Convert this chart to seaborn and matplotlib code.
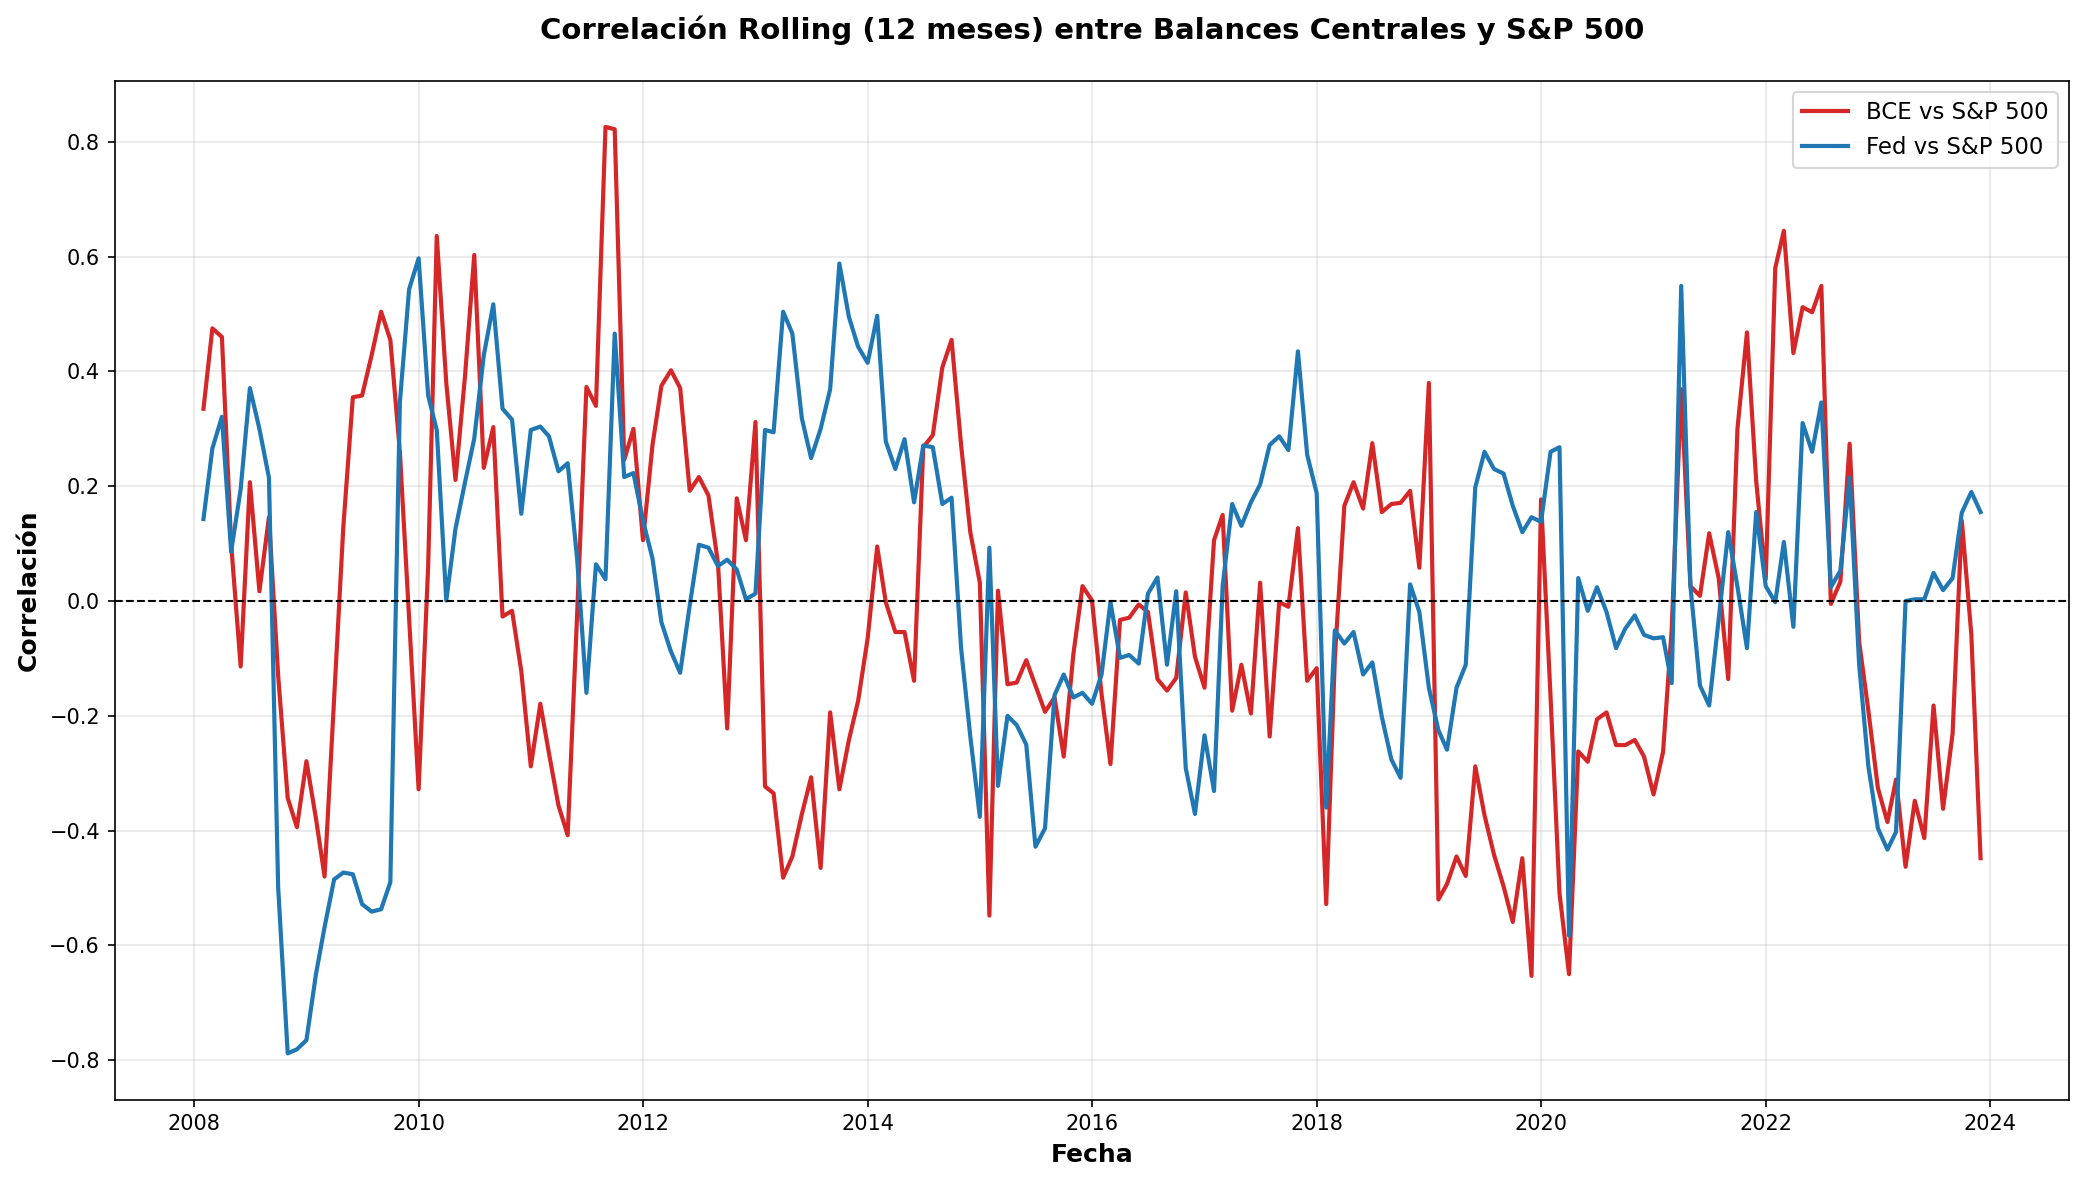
import matplotlib
matplotlib.use("Agg")
import matplotlib.pyplot as plt
import pandas as pd
import seaborn as sns

# monthly rolling 12m correlations, month-end dates from 2008-01 to 2023-11
start_date = "2008-01-31"

bce_sp500 = [
    0.335, 0.475, 0.46, 0.10, -0.114, 0.207, 0.017, 0.146, -0.13, -0.343,
    -0.394, -0.279, -0.379, -0.48, -0.17, 0.129, 0.355, 0.358, 0.428, 0.504,
    0.455, 0.26, -0.03, -0.328, 0.06, 0.636, 0.38, 0.211, 0.392, 0.603,
    0.232, 0.303, -0.027, -0.017, -0.122, -0.288, -0.179, -0.265, -0.356, -0.408,
    -0.02, 0.373, 0.34, 0.826, 0.822, 0.246, 0.30, 0.106, 0.272, 0.375,
    0.402, 0.371, 0.192, 0.216, 0.184, 0.066, -0.222, 0.179, 0.106, 0.312,
    -0.323, -0.335, -0.482, -0.445, -0.371, -0.307, -0.465, -0.194, -0.328, -0.242,
    -0.174, -0.065, 0.095, -0.002, -0.054, -0.054, -0.139, 0.268, 0.289, 0.407,
    0.455, 0.272, 0.12, 0.032, -0.548, 0.018, -0.145, -0.142, -0.103, -0.147,
    -0.193, -0.168, -0.271, -0.094, 0.026, 0.001, -0.162, -0.284, -0.033, -0.029,
    -0.006, -0.019, -0.136, -0.156, -0.134, 0.015, -0.097, -0.151, 0.106, 0.15,
    -0.191, -0.111, -0.196, 0.032, -0.236, -0.002, -0.01, 0.127, -0.139, -0.117,
    -0.528, -0.10, 0.166, 0.207, 0.161, 0.275, 0.155, 0.169, 0.171, 0.192,
    0.058, 0.38, -0.52, -0.493, -0.445, -0.479, -0.288, -0.373, -0.442, -0.497,
    -0.559, -0.448, -0.653, 0.177, -0.168, -0.509, -0.65, -0.262, -0.28, -0.206,
    -0.194, -0.251, -0.251, -0.242, -0.271, -0.337, -0.263, -0.05, 0.369, 0.026,
    0.009, 0.118, 0.04, -0.136, 0.30, 0.468, 0.209, 0.038, 0.58, 0.645,
    0.432, 0.512, 0.503, 0.549, -0.005, 0.034, 0.274, -0.071, -0.191, -0.326,
    -0.385, -0.311, -0.463, -0.348, -0.413, -0.182, -0.362, -0.231, 0.14, -0.059,
    -0.448,
]

fed_sp500 = [
    0.143, 0.266, 0.321, 0.086, 0.195, 0.371, 0.30, 0.215, -0.499, -0.788,
    -0.781, -0.765, -0.65, -0.568, -0.485, -0.473, -0.476, -0.528, -0.541, -0.537,
    -0.49, 0.346, 0.543, 0.597, 0.358, 0.298, 0.001, 0.126, 0.207, 0.283,
    0.428, 0.517, 0.335, 0.316, 0.152, 0.298, 0.304, 0.287, 0.226, 0.24,
    0.072, -0.16, 0.064, 0.038, 0.466, 0.216, 0.223, 0.140, 0.074, -0.037,
    -0.088, -0.125, -0.008, 0.098, 0.093, 0.061, 0.072, 0.055, 0.003, 0.013,
    0.298, 0.294, 0.504, 0.466, 0.318, 0.249, 0.30, 0.369, 0.588, 0.495,
    0.443, 0.415, 0.497, 0.278, 0.23, 0.282, 0.172, 0.271, 0.268, 0.169,
    0.18, -0.082, -0.236, -0.376, 0.093, -0.322, -0.2, -0.216, -0.25, -0.428,
    -0.396, -0.164, -0.128, -0.168, -0.16, -0.179, -0.128, -0.002, -0.099, -0.094,
    -0.109, 0.013, 0.041, -0.111, 0.017, -0.291, -0.371, -0.234, -0.331, 0.026,
    0.169, 0.131, 0.172, 0.203, 0.272, 0.287, 0.263, 0.435, 0.255, 0.188,
    -0.36, -0.051, -0.074, -0.054, -0.128, -0.107, -0.202, -0.276, -0.308, 0.029,
    -0.019, -0.151, -0.225, -0.259, -0.151, -0.111, 0.198, 0.26, 0.23, 0.222,
    0.166, 0.12, 0.146, 0.138, 0.26, 0.268, -0.583, 0.04, -0.017, 0.024,
    -0.019, -0.082, -0.048, -0.025, -0.059, -0.065, -0.063, -0.143, 0.549, 0.026,
    -0.147, -0.182, -0.031, 0.12, 0.025, -0.082, 0.155, 0.026, -0.002, 0.103,
    -0.045, 0.31, 0.26, 0.346, 0.024, 0.053, 0.215, -0.111, -0.288, -0.396,
    -0.433, -0.402, 0.0, 0.003, 0.003, 0.049, 0.019, 0.04, 0.154, 0.19,
    0.155,
]

fechas = pd.date_range(start_date, periods=len(bce_sp500), freq="ME")
df = pd.DataFrame({"Fecha": fechas, "bce": bce_sp500, "fed": fed_sp500})

fig, ax = plt.subplots(figsize=(2084 / 150, 1185 / 150), dpi=150)

sns.lineplot(data=df, x="Fecha", y="bce", ax=ax, color="#d62728", linewidth=2,
             label="BCE vs S&P 500")
sns.lineplot(data=df, x="Fecha", y="fed", ax=ax, color="#1f77b4", linewidth=2,
             label="Fed vs S&P 500")

ax.axhline(0, color="black", linestyle="--", linewidth=1)

ax.set_title("Correlación Rolling (12 meses) entre Balances Centrales y S&P 500",
             fontsize=14, fontweight="bold", pad=20)
ax.set_xlabel("Fecha", fontsize=12, fontweight="bold")
ax.set_ylabel("Correlación", fontsize=12, fontweight="bold")
ax.grid(True, alpha=0.3)
ax.legend(loc="upper right", fontsize=11)

fig.subplots_adjust(left=0.055, right=0.993, top=0.932, bottom=0.072)
fig.savefig("out.png", dpi=150)
plt.close()
